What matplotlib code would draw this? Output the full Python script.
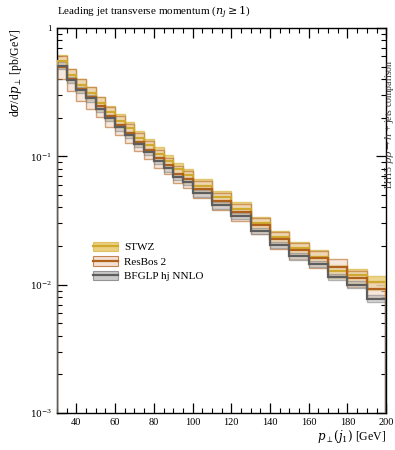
import numpy as np
import matplotlib.pyplot as plt
from matplotlib.patches import Patch
from matplotlib.lines import Line2D

plt.rcParams['font.family'] = ['Liberation Serif', 'DejaVu Serif']
plt.rcParams['mathtext.fontset'] = 'dejavuserif'

# bin edges in GeV: 5 GeV up to 100, then 10 GeV
edges = [30, 35, 40, 45, 50, 55, 60, 65, 70, 75, 80, 85, 90, 95, 100,
         110, 120, 130, 140, 150, 160, 170, 180, 190, 200]

# central values [pb/GeV]
stwz = [0.55, 0.43, 0.36, 0.31, 0.26, 0.22, 0.19, 0.165, 0.14, 0.122, 0.105, 0.092,
        0.079, 0.071, 0.059, 0.048, 0.039, 0.030, 0.0235, 0.0192, 0.0165, 0.0128,
        0.0118, 0.0104]
resbos = [0.50, 0.40, 0.335, 0.29, 0.245, 0.205, 0.176, 0.152, 0.130, 0.113, 0.097,
          0.085, 0.073, 0.067, 0.056, 0.045, 0.037, 0.029, 0.0225, 0.0185, 0.016,
          0.0137, 0.0112, 0.0092]
bfglp = [0.508, 0.393, 0.329, 0.283, 0.234, 0.199, 0.169, 0.147, 0.125, 0.108, 0.0924,
         0.0806, 0.0693, 0.0634, 0.0515, 0.0417, 0.0343, 0.0263, 0.0204, 0.0167,
         0.0145, 0.0115, 0.0100, 0.0078]

# relative scale uncertainties
stwz_err = [0.12, 0.12, 0.12, 0.12, 0.12, 0.12, 0.12, 0.12, 0.12, 0.12, 0.12, 0.12,
            0.12, 0.12, 0.12, 0.12, 0.12, 0.12, 0.12, 0.12, 0.12, 0.12, 0.12, 0.12]
resbos_err = [0.20, 0.20, 0.19, 0.19, 0.18, 0.18, 0.17, 0.17, 0.16, 0.16, 0.16, 0.15,
              0.15, 0.15, 0.15, 0.15, 0.15, 0.15, 0.15, 0.15, 0.15, 0.15, 0.15, 0.15]
bfglp_err = [0.06, 0.06, 0.06, 0.06, 0.06, 0.06, 0.06, 0.06, 0.06, 0.06, 0.06, 0.06,
             0.06, 0.06, 0.06, 0.06, 0.06, 0.06, 0.06, 0.06, 0.06, 0.06, 0.06, 0.06]

series = [
    ('STWZ', stwz, stwz_err, '#d0aa30', '#e6c460', '#d8b848', 0.7),
    ('ResBos 2', resbos, resbos_err, '#b0621c', '#f0d8c8', '#b86a28', 0.6),
    ('BFGLP hj NNLO', bfglp, bfglp_err, '#5e5e5e', '#bdbdbd', '#808080', 0.55),
]

fig = plt.figure(figsize=(3.95, 4.5), dpi=100)
ax = fig.add_axes([0.1443, 0.0822, 0.8334, 0.8556])

edges_a = np.array(edges, dtype=float)
widths = np.diff(edges_a)
handles = []
labels = []
for name, vals, err, line_c, fill_c, edge_c, alpha in series:
    v = np.array(vals)
    e = np.array(err)
    lo = v * (1 - e)
    hi = v * (1 + e)
    ax.bar(edges_a[:-1], hi - lo, width=widths, bottom=lo, align='edge',
           facecolor=fill_c, edgecolor=edge_c, linewidth=1.0, alpha=alpha, zorder=2)
    ax.stairs(v, edges_a, color=line_c, linewidth=1.6, zorder=3)
    handles.append((Patch(facecolor=fill_c, edgecolor=edge_c, alpha=0.8, linewidth=0.8),
                    Line2D([], [], color=line_c, linewidth=1.6)))
    labels.append(name)

ax.set_xlim(30, 200)
ax.set_yscale('log')
ax.set_ylim(1e-3, 1)

ax.set_xticks([40, 60, 80, 100, 120, 140, 160, 180, 200])
ax.set_xticks(np.arange(30, 201, 5), minor=True)
ax.set_yticks([1e-3, 1e-2, 1e-1, 1])
ax.set_yticklabels([r'$10^{-3}$', r'$10^{-2}$', r'$10^{-1}$', '1'])
ax.tick_params(which='both', direction='in', top=True, right=True, labelsize=7.5)
ax.tick_params(which='major', length=7, width=0.9)
ax.tick_params(which='minor', length=3.5, width=0.8)
ax.tick_params(axis='y', which='major', labelsize=6.5)
for s in ax.spines.values():
    s.set_linewidth(1.0)

ax.text(0.0, 1.018, r'Leading jet transverse momentum ($n_j \geq 1$)',
        transform=ax.transAxes, fontsize=8, ha='left', va='bottom')
ax.set_ylabel(r'd$\sigma$/d$p_\perp$ [pb/GeV]', fontsize=8.5, loc='top', labelpad=4)
ax.set_xlabel(r'$p_\perp(j_1)$ [GeV]', fontsize=8.5, loc='right', labelpad=1)

fig.text(0.987, 0.58, r'LH15 $pp \rightarrow h$ + jets comparison', rotation=90,
         fontsize=7, ha='center', va='bottom', color='#333333')

ax.legend(handles, labels, loc='upper left', bbox_to_anchor=(0.08, 0.47),
          frameon=False, fontsize=8, handlelength=2.2, handleheight=0.9,
          labelspacing=0.35, handletextpad=0.6)

fig.savefig('out.png', dpi=100)
